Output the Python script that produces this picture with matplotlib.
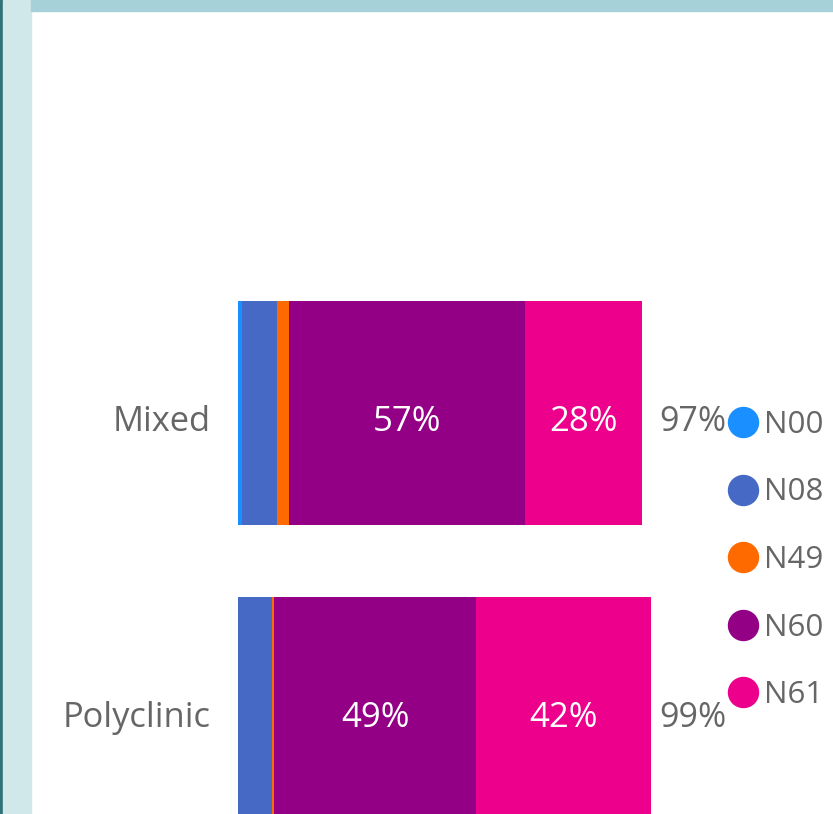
import matplotlib
matplotlib.use('agg')
import matplotlib.pyplot as plt
from matplotlib.patches import Rectangle
from matplotlib.lines import Line2D

plt.rcParams['font.family'] = ['Open Sans', 'DejaVu Sans']

categories = ['Mixed', 'Polyclinic']
series = ['N00', 'N08', 'N49', 'N60', 'N61']
colors = ['#1A8FFF', '#4769C6', '#FF6A00', '#940085', '#EC008C']
values = {
    'N00': [1.0, 0.0],
    'N08': [8.4, 8.2],
    'N49': [2.9, 0.5],
    'N60': [56.6, 48.6],
    'N61': [28.1, 41.9],
}

GREY = '#666666'
W, H = 833, 814

fig = plt.figure(figsize=(W / 100, H / 100), dpi=100)

# frame strips from the report page
fig.patches.append(Rectangle((0, 0), 3 / W, 1, transform=fig.transFigure,
                             color='#2F7378', zorder=0))
fig.patches.append(Rectangle((3 / W, 0), 28 / W, 1, transform=fig.transFigure,
                             color='#D1E8EA', zorder=0))
fig.patches.append(Rectangle((31 / W, 1 - 11 / H), 1, 11 / H,
                             transform=fig.transFigure,
                             color='#A6D1D8', zorder=0))

ax = fig.add_axes([31 / W, 0, (W - 31) / W, (H - 11) / H])
ax.axis('off')

dy = 0.03  # text sits a touch below bar centre
ypos = list(range(len(categories)))
left = [0.0] * len(categories)
for name, col in zip(series, colors):
    vals = values[name]
    ax.barh(ypos, vals, left=left, height=0.757, color=col, linewidth=0)
    for i, v in enumerate(vals):
        if v >= 10:
            ax.text(left[i] + v / 2, i + dy, '%d%%' % round(v),
                    ha='center', va='center', color='white', fontsize=25)
    left = [l + v for l, v in zip(left, vals)]

totals = left
for i, cat in enumerate(categories):
    ax.text(-6.5, i + dy, cat, ha='right', va='center',
            color=GREY, fontsize=24.8)
    ax.text(max(totals) + 2, i + dy, '%d%%' % int(totals[i]),
            ha='left', va='center', color=GREY, fontsize=24.5)

ax.set_xlim(-49.76, 143.0)
ax.set_ylim(1.355, -1.358)

handles = [Line2D([], [], marker='o', linestyle='', markersize=21.6,
                  color=c) for c in colors]
fig.legend(handles, series, loc='upper left',
           bbox_to_anchor=(728 / W, 1 - 410 / H), frameon=False,
           fontsize=22.5, labelcolor=GREY, handlelength=0.95,
           handletextpad=0.2, labelspacing=1.2, borderpad=0,
           borderaxespad=0)

plt.savefig('out.png', dpi=100)
